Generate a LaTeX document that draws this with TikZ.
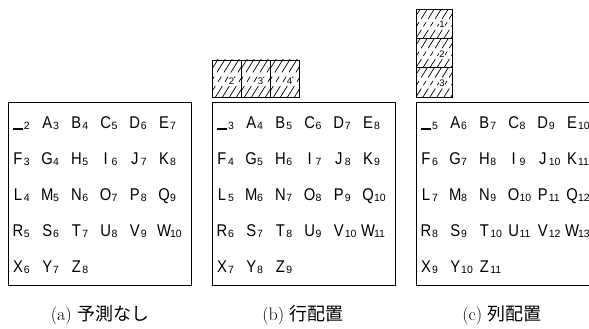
\documentclass[tikz,border=0pt]{standalone}
\usepackage{fontspec}
\newfontfamily\cellfont[FakeStretch=0.87]{Liberation Sans}
\newfontfamily\subfont{Liberation Sans}
\newfontfamily\jpfont{Noto Sans CJK JP}
\newcommand{\cellc}[2]{\makebox[12pt][c]{\fontsize{17}{17}\cellfont #1}\raisebox{-1pt}{\fontsize{10.5}{10.5}\subfont #2}}
\newcommand{\ubar}{\rule[-1.5pt]{10pt}{2pt}}
\newcommand{\grid}[3]{%
  \foreach \L [count=\i from 0] in {X,A,B,C,D,E,F,G,H,I,J,K,L,M,N,O,P,Q,R,S,T,U,V,W,X,Y,Z}{%
    \pgfmathtruncatemacro\row{floor(\i/6)}%
    \pgfmathtruncatemacro\col{mod(\i,6)}%
    \pgfmathtruncatemacro\num{#3+\row+\col}%
    \ifnum\i=0 \def\glyph{\ubar}\else \edef\glyph{\L}\fi
    \node[cellnode] (#1-\i) at ({#2+4+29.2*\col},{200-36*\row}) {\cellc{\glyph}{\num}};
  }}
\begin{document}
\begin{tikzpicture}[x=1pt,y=1pt,
  frame/.style={draw, line width=1pt, inner sep=0pt, minimum width=183pt, minimum height=183pt},
  cellnode/.style={anchor=base west, inner sep=0pt, outer sep=0pt},
  hatchcell/.style={draw, line width=0.9pt, inner sep=0pt,
    path picture={\foreach \k in {-60,-53,...,60}{\draw[line width=0.7pt, dash pattern=#1]
      ([xshift=\k pt]path picture bounding box.south) -- ++(58:60);}}},
  hb/.style={hatchcell={on 13pt off 5pt on 6pt off 5pt on 30pt off 5pt}, minimum width=29pt, minimum height=37pt},
  hc/.style={hatchcell={on 10pt off 4pt on 5pt off 4pt on 30pt off 4pt}, minimum width=36pt, minimum height=29.33pt},
  hnum/.style={fill=white, inner sep=0.4pt, font=\fontsize{9.5}{9.5}\subfont},
  captext/.style={anchor=base, font=\fontsize{18}{18}\selectfont}]
\clip (0,0) rectangle (589,329);
\fill[white] (0,0) rectangle (589,329);
% frames (y from 43.5 to 226.5)
\node[frame] (boxa) at (99.5,135) {};
\node[frame] (boxb) at (303.5,135) {};
\node[frame] (boxc) at (507.5,135) {};
% grids
\grid{ga}{8}{2}
\grid{gb}{212}{3}
\grid{gc}{416}{5}
% row hatch (b)
\node[hb] (hb1) at (226.5,250.5) {};
\node[hb] (hb2) at (255.5,250.5) {};
\node[hb] (hb3) at (284.5,250.5) {};
\node[hnum] at ([xshift=5pt,yshift=-3pt]hb1.center) {2};
\node[hnum] at ([xshift=5pt,yshift=-3pt]hb2.center) {3};
\node[hnum] at ([xshift=5pt,yshift=-3pt]hb3.center) {4};
% column hatch (c)
\node[hc] (hc1) at (434,305.33) {};
\node[hc] (hc2) at (434,276) {};
\node[hc] (hc3) at (434,246.67) {};
\node[hnum] at ([xshift=8pt,yshift=-1pt]hc1.center) {1};
\node[hnum] at ([xshift=8pt,yshift=-1pt]hc2.center) {2};
\node[hnum] at ([xshift=8pt,yshift=-1pt]hc3.center) {3};
% captions
\node[captext] (capa) at (100,8) {(a) {\jpfont 予測なし}};
\node[captext] (capb) at (303,8) {(b) {\jpfont 行配置}};
\node[captext] (capc) at (502,8) {(c) {\jpfont 列配置}};
\end{tikzpicture}
\end{document}
